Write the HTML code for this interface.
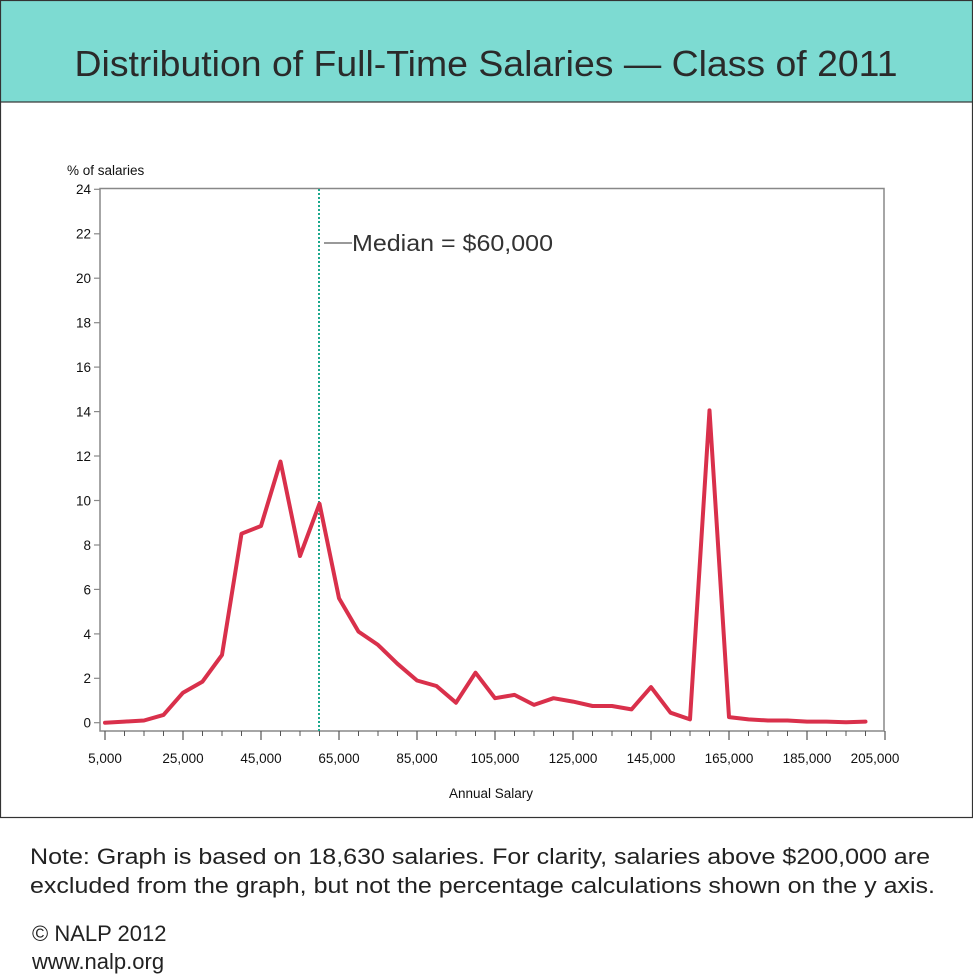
<!DOCTYPE html>
<html><head><meta charset="utf-8"><style>
html,body{margin:0;padding:0;background:#fff;}
svg{display:block;font-family:"Liberation Sans",Arial,sans-serif;}
</style></head><body>
<svg width="973" height="975" viewBox="0 0 973 975" xmlns="http://www.w3.org/2000/svg">
<rect x="0.5" y="0.5" width="972" height="817" fill="#fff" stroke="#333" stroke-width="1.2"/>
<rect x="0.5" y="0.5" width="972" height="101.5" fill="#7DDBD2" stroke="#333" stroke-width="1.2"/>
<text x="486" y="76" font-size="36" fill="#2a2a2a" text-anchor="middle" textLength="823" lengthAdjust="spacingAndGlyphs">Distribution of Full-Time Salaries — Class of 2011</text>

<text x="67" y="175" font-size="13.5" fill="#111">% of salaries</text>
<g stroke="#888" stroke-width="1.5" fill="none">
<rect x="100" y="188.5" width="784" height="542.5"/>
</g>
<g stroke="#888" stroke-width="1.2">
<line x1="94" x2="100" y1="189.3" y2="189.3"/><line x1="94" x2="100" y1="233.8" y2="233.8"/>
<line x1="94" x2="100" y1="278.2" y2="278.2"/><line x1="94" x2="100" y1="322.7" y2="322.7"/>
<line x1="94" x2="100" y1="367.1" y2="367.1"/><line x1="94" x2="100" y1="411.6" y2="411.6"/>
<line x1="94" x2="100" y1="456" y2="456"/><line x1="94" x2="100" y1="500.5" y2="500.5"/>
<line x1="94" x2="100" y1="545" y2="545"/><line x1="94" x2="100" y1="589.4" y2="589.4"/>
<line x1="94" x2="100" y1="633.9" y2="633.9"/><line x1="94" x2="100" y1="678.3" y2="678.3"/>
<line x1="94" x2="100" y1="722.7" y2="722.7"/>
</g>
<g font-size="13.5" fill="#111" text-anchor="end">
<text x="91" y="194">24</text><text x="91" y="238.5">22</text><text x="91" y="283">20</text>
<text x="91" y="327.5">18</text><text x="91" y="372">16</text><text x="91" y="416.5">14</text>
<text x="91" y="461">12</text><text x="91" y="505.5">10</text><text x="91" y="550">8</text>
<text x="91" y="594.5">6</text><text x="91" y="639">4</text><text x="91" y="683">2</text>
<text x="91" y="727.5">0</text>
</g>
<g stroke="#555" stroke-width="1.2">
<line x1="105" x2="105" y1="731" y2="740"/><line x1="183" x2="183" y1="731" y2="740"/>
<line x1="261" x2="261" y1="731" y2="740"/><line x1="339" x2="339" y1="731" y2="740"/>
<line x1="417" x2="417" y1="731" y2="740"/><line x1="495" x2="495" y1="731" y2="740"/>
<line x1="573" x2="573" y1="731" y2="740"/><line x1="651" x2="651" y1="731" y2="740"/>
<line x1="729" x2="729" y1="731" y2="740"/><line x1="807" x2="807" y1="731" y2="740"/>
<line x1="885" x2="885" y1="731" y2="740"/>
</g>
<g stroke="#555" stroke-width="1">
<line x1="124.5" x2="124.5" y1="731" y2="736"/><line x1="144" x2="144" y1="731" y2="736"/><line x1="163.5" x2="163.5" y1="731" y2="736"/>
<line x1="202.5" x2="202.5" y1="731" y2="736"/><line x1="222" x2="222" y1="731" y2="736"/><line x1="241.5" x2="241.5" y1="731" y2="736"/>
<line x1="280.5" x2="280.5" y1="731" y2="736"/><line x1="300" x2="300" y1="731" y2="736"/><line x1="319.5" x2="319.5" y1="731" y2="736"/>
<line x1="358.5" x2="358.5" y1="731" y2="736"/><line x1="378" x2="378" y1="731" y2="736"/><line x1="397.5" x2="397.5" y1="731" y2="736"/>
<line x1="436.5" x2="436.5" y1="731" y2="736"/><line x1="456" x2="456" y1="731" y2="736"/><line x1="475.5" x2="475.5" y1="731" y2="736"/>
<line x1="514.5" x2="514.5" y1="731" y2="736"/><line x1="534" x2="534" y1="731" y2="736"/><line x1="553.5" x2="553.5" y1="731" y2="736"/>
<line x1="592.5" x2="592.5" y1="731" y2="736"/><line x1="612" x2="612" y1="731" y2="736"/><line x1="631.5" x2="631.5" y1="731" y2="736"/>
<line x1="670.5" x2="670.5" y1="731" y2="736"/><line x1="690" x2="690" y1="731" y2="736"/><line x1="709.5" x2="709.5" y1="731" y2="736"/>
<line x1="748.5" x2="748.5" y1="731" y2="736"/><line x1="768" x2="768" y1="731" y2="736"/><line x1="787.5" x2="787.5" y1="731" y2="736"/>
<line x1="826.5" x2="826.5" y1="731" y2="736"/><line x1="846" x2="846" y1="731" y2="736"/><line x1="865.5" x2="865.5" y1="731" y2="736"/>
</g>
<g font-size="13.5" fill="#111" text-anchor="middle">
<text x="105" y="763">5,000</text><text x="183" y="763">25,000</text><text x="261" y="763">45,000</text>
<text x="339" y="763">65,000</text><text x="417" y="763">85,000</text><text x="495" y="763">105,000</text>
<text x="573" y="763">125,000</text><text x="651" y="763">145,000</text><text x="729" y="763">165,000</text>
<text x="807" y="763">185,000</text><text x="875" y="763">205,000</text>
<text x="491" y="798">Annual Salary</text>
</g>
<line x1="319" x2="319" y1="189" y2="731" stroke="#1aa88c" stroke-width="2" stroke-dasharray="2,2"/>
<line x1="324" x2="352" y1="243" y2="243" stroke="#333" stroke-width="1"/>
<text x="352" y="251" font-size="23" fill="#333" textLength="201" lengthAdjust="spacingAndGlyphs">Median = $60,000</text>
<polyline fill="none" stroke="#D9304B" stroke-width="4" stroke-linejoin="round" stroke-linecap="round" points="105,722.7 124.5,721.6 144,720.5 163.5,714.9 183,692.7 202.5,681.6 222,654.9 241.5,533.7 261,526 280.5,461.5 300,556 319.5,503.7 339,598.2 358.5,631.6 378,644.9 397.5,663.8 417,680.5 436.5,686 456,702.7 475.5,672.7 495,698.2 514.5,694.9 534,704.9 553.5,698.2 573,701.6 592.5,706 612,706 631.5,709.4 651,687.1 670.5,712.7 690,719.4 709.5,410.4 729,717.1 748.5,719.4 768,720.5 787.5,720.5 807,721.6 826.5,721.6 846,722.3 865.5,721.6"/>
<g font-size="22" fill="#222">
<text x="30" y="864" textLength="900" lengthAdjust="spacingAndGlyphs">Note: Graph is based on 18,630 salaries. For clarity, salaries above $200,000 are</text>
<text x="30" y="893" textLength="905" lengthAdjust="spacingAndGlyphs">excluded from the graph, but not the percentage calculations shown on the y axis.</text>
<text x="32" y="941">© NALP 2012</text>
<text x="32" y="969">www.nalp.org</text>
</g>
</svg>
</body></html>
